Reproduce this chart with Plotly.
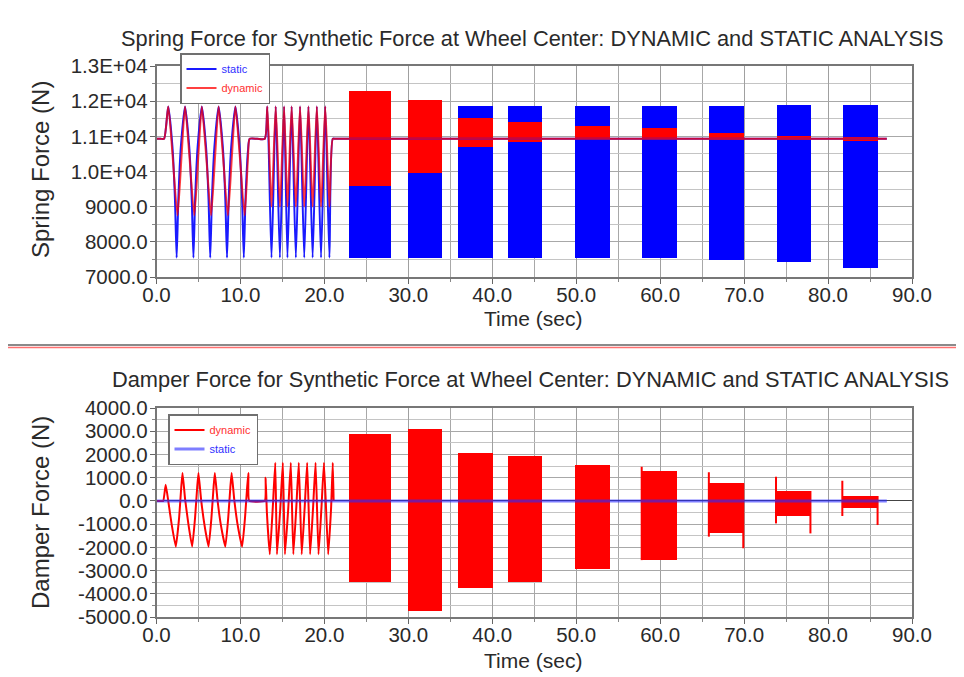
import plotly.graph_objects as go

# ---------------- data ----------------
# Spring force, oscillating segments (time s, force N)
spring_static_t = [0.0, 0.5, 0.9, 1.4, 1.9, 2.2, 2.4, 2.6, 2.9, 3.4, 3.9, 4.2, 4.4, 4.6, 4.9, 5.4, 5.9, 6.2, 6.4, 6.6, 6.9,
                   7.4, 7.9, 8.2, 8.4, 8.6, 8.9, 9.4, 9.9, 10.2, 10.4, 10.6, 10.9, 11.1, 12.0,
                   12.9, 13.2, 13.7, 14.2, 14.7, 15.2, 15.6, 16.1, 16.6, 17.1, 17.6, 18.1, 18.6, 19.1, 19.6, 20.1, 20.6, 21.0,
                   21.3, 22.0, 87.0]
spring_static_v = [10930, 10930, 10930, 11850, 10700, 9200, 7550, 9200, 10700, 11850, 10700, 9200, 7550, 9200, 10700, 11850, 10700, 9200, 7550, 9200, 10700,
                   11850, 10700, 9200, 7550, 9200, 10700, 11850, 10700, 9200, 7550, 9200, 10600, 10930, 10930,
                   10930, 11850, 7550, 11850, 7550, 11850, 7550, 11850, 7550, 11850, 7550, 11850, 7550, 11850, 7550, 11850, 7550, 10930,
                   10930, 10930, 10930]
spring_dynamic_t = [0.0, 0.5, 0.9, 1.4, 1.9, 2.5, 3.0, 3.4, 3.9, 4.5, 5.0, 5.4, 5.9, 6.5, 7.0, 7.4, 7.9, 8.5, 9.0, 9.4, 9.9, 10.5, 10.9, 11.1, 12.0,
                    12.9, 13.2, 13.7, 14.2, 14.7, 15.2, 15.6, 16.1, 16.6, 17.1, 17.6, 18.1, 18.6, 19.1, 19.6, 20.1, 20.6, 21.0,
                    21.3, 22.0, 87.0]
spring_dynamic_v = [10930, 10930, 10930, 11850, 10500, 8750, 10500, 11850, 10500, 8750, 10500, 11850, 10500, 8750, 10500, 11850, 10500, 8750, 10500, 11850, 10500, 8750, 10400, 10930, 10930,
                    10930, 11850, 9000, 11850, 9000, 11850, 9000, 11850, 9000, 11850, 9000, 11850, 9000, 11850, 9000, 11850, 9000, 10930,
                    10930, 10930, 10930]

# Dense high-frequency blocks (start / end time, envelope of the signal)
block_start = [22.9, 29.9, 35.8, 41.8, 49.8, 57.8, 65.8, 73.8, 81.7]
block_end = [27.9, 34.0, 40.0, 45.9, 54.0, 62.0, 69.9, 77.9, 85.9]
spring_static_lo = [7550, 7550, 7550, 7550, 7550, 7530, 7480, 7440, 7250]
spring_static_hi = [11850, 11850, 11850, 11850, 11850, 11850, 11850, 11900, 11900]
spring_dynamic_lo = [9580, 9950, 10700, 10850, 10930, 10930, 10900, 10900, 10880]
spring_dynamic_hi = [12300, 12030, 11530, 11420, 11300, 11230, 11100, 11020, 10980]

damper_dynamic_lo = [-3500, -4750, -3750, -3480, -2950, -2550, -1370, -650, -320]
damper_dynamic_hi = [2880, 3080, 2080, 1950, 1530, 1290, 760, 430, 210]
damper_spike_start_hi = [None, None, None, None, None, 1470, 1230, 1040, 870]
damper_spike_start_lo = [None, None, None, None, None, None, -1540, -970, -650]
damper_spike_end_lo = [None, None, None, None, None, None, -2040, -1400, -1040]

damper_dynamic_t = [0.0, 0.5, 0.8, 1.1, 1.4, 1.8, 2.3, 2.7, 2.95, 3.1, 3.4, 3.8, 4.25, 4.6, 4.85, 5.0, 5.3, 5.7, 6.2, 6.55, 6.8,
                    6.95, 7.25, 7.65, 8.2, 8.55, 8.8, 8.95, 9.25, 9.65, 10.2, 10.55, 10.8, 10.95, 11.05,
                    12.9, 13.0, 13.15, 13.5, 13.85, 14.15, 14.35, 14.75, 15.05, 15.3, 15.7, 16.0, 16.3, 16.65, 16.95, 17.3,
                    17.65, 17.95, 18.3, 18.65, 18.95, 19.3, 19.65, 19.95, 20.45, 20.8, 21.0, 21.1]
damper_dynamic_v = [0, 0, 0, 700, 0, -1000, -1970, -700, 600, 1200, 100, -1000, -1970, -700, 600, 1200, 100, -1000, -1970, -700, 600,
                    1200, 100, -1000, -1970, -700, 600, 1200, 100, -1000, -1970, -700, 600, 1200, 0,
                    0, 1000, -500, -2300, -300, 1640, -2300, -300, 1640, -2300, -300, 1640, -2300, -300, 1640, -2300,
                    -300, 1640, -2300, -300, 1640, -2300, -300, 1640, -2300, -300, 1640, 0]
damper_static_t = [0.0, 87.0]
damper_static_v = [0, 0]

x_ticks = [0, 10, 20, 30, 40, 50, 60, 70, 80, 90]
x_ticktext = ["0.0", "10.0", "20.0", "30.0", "40.0", "50.0", "60.0", "70.0", "80.0", "90.0"]
spring_ticks = [7000, 8000, 9000, 10000, 11000, 12000, 13000]
spring_ticktext = ["7000.0", "8000.0", "9000.0", "1.0E+04", "1.1E+04", "1.2E+04", "1.3E+04"]
damper_ticks = [-5000, -4000, -3000, -2000, -1000, 0, 1000, 2000, 3000, 4000]
damper_ticktext = ["-5000.0", "-4000.0", "-3000.0", "-2000.0", "-1000.0", "0.0", "1000.0", "2000.0", "3000.0", "4000.0"]

title_top = "Spring Force for Synthetic Force at Wheel Center: DYNAMIC and STATIC ANALYSIS"
title_bottom = "Damper Force for Synthetic Force at Wheel Center: DYNAMIC and STATIC ANALYSIS"

# ---------------- figure ----------------
OFF = 8  # page body margin
W, H = 964 - OFF, 677 - OFF
FONT = "Liberation Sans, Arial, sans-serif"
TXT = "#2a2a2a"


def px(x):
    return (x - OFF) / W


def py(y):
    return 1 - (y - OFF) / H


centers = [(a + b) / 2 for a, b in zip(block_start, block_end)]
widths = [b - a for a, b in zip(block_start, block_end)]

fig = go.Figure()

# top: bars (blue static under red dynamic)
fig.add_trace(go.Bar(x=centers, width=widths, base=spring_static_lo,
                     y=[h - l for h, l in zip(spring_static_hi, spring_static_lo)],
                     marker=dict(color="#0000ff", line=dict(width=0)), showlegend=False,
                     xaxis="x", yaxis="y", hoverinfo="skip"))
fig.add_trace(go.Bar(x=centers, width=widths, base=spring_dynamic_lo,
                     y=[h - l for h, l in zip(spring_dynamic_hi, spring_dynamic_lo)],
                     marker=dict(color="#ff0000", line=dict(width=0)), showlegend=False,
                     xaxis="x", yaxis="y", hoverinfo="skip"))
fig.add_trace(go.Scatter(x=spring_static_t, y=spring_static_v, mode="lines",
                         line=dict(color="#1a1aff", width=2, shape="spline", smoothing=0.6),
                         name='<span style="color:#3030ff">static</span>', legend="legend",
                         xaxis="x", yaxis="y"))
fig.add_trace(go.Scatter(x=spring_dynamic_t, y=spring_dynamic_v, mode="lines",
                         line=dict(color="rgba(255,0,0,0.75)", width=2, shape="spline", smoothing=0.6),
                         name='<span style="color:#ff3030">dynamic</span>', legend="legend",
                         xaxis="x", yaxis="y"))

# bottom
fig.add_trace(go.Bar(x=centers, width=widths, base=damper_dynamic_lo,
                     y=[h - l for h, l in zip(damper_dynamic_hi, damper_dynamic_lo)],
                     marker=dict(color="#ff0000", line=dict(width=0)), showlegend=False,
                     xaxis="x2", yaxis="y2", hoverinfo="skip"))
sx, sy = [], []
for t0, t1, hs, ls, le, lo, hi in zip(block_start, block_end, damper_spike_start_hi, damper_spike_start_lo,
                                      damper_spike_end_lo, damper_dynamic_lo, damper_dynamic_hi):
    if hs is not None or ls is not None:
        sx += [t0, t0, None]
        sy += [hs if hs is not None else hi, ls if ls is not None else lo, None]
    if le is not None:
        sx += [t1, t1, None]
        sy += [hi, le, None]
fig.add_trace(go.Scatter(x=sx, y=sy, mode="lines", line=dict(color="#ff0000", width=2),
                         showlegend=False, xaxis="x2", yaxis="y2", hoverinfo="skip"))
fig.add_trace(go.Scatter(x=damper_dynamic_t, y=damper_dynamic_v, mode="lines",
                         line=dict(color="#ff0000", width=2, shape="spline", smoothing=0.4),
                         name='<span style="color:#ff3030">dynamic</span>', legend="legend2",
                         xaxis="x2", yaxis="y2"))
fig.add_trace(go.Scatter(x=damper_static_t, y=damper_static_v, mode="lines",
                         line=dict(color="rgba(40,40,255,0.6)", width=3),
                         name='<span style="color:#3030ff">static</span>', legend="legend2",
                         xaxis="x2", yaxis="y2"))

xd = [px(156.5), px(912)]
top_dom = [py(277), py(66)]
bot_dom = [py(617), py(408)]
TICKSZ = 20.5

def xaxis_cfg(anchor):
    return dict(domain=xd, anchor=anchor, range=[0, 90], tickmode="array", tickvals=x_ticks, ticktext=x_ticktext,
                ticks="outside", ticklen=5, tickcolor="#666", showline=True, linecolor="#777", linewidth=1.5,
                mirror=True, showgrid=True, gridcolor="#a0a0a0", gridwidth=1, zeroline=False, automargin=False,
                ticklabelstandoff=-6,
                tickfont=dict(size=TICKSZ, color=TXT, family=FONT),
                minor=dict(tickmode="linear", tick0=0, dtick=5, ticks="outside", ticklen=3, tickcolor="#888",
                           showgrid=True, gridcolor="#a8a8a8", gridwidth=1))

def yaxis_cfg(anchor, dom, rng, tv, tt):
    return dict(domain=dom, anchor=anchor, range=rng, tickmode="array", tickvals=tv, ticktext=tt,
                ticks="outside", ticklen=5, tickcolor="#666", showline=True, linecolor="#777", linewidth=1.5,
                mirror=True, showgrid=True, gridcolor="#a8a8a8", gridwidth=1, automargin=False,
                ticklabelstandoff=-2,
                tickfont=dict(size=TICKSZ, color=TXT, family=FONT),
                minor=dict(tickmode="linear", tick0=0, dtick=500, ticks="outside", ticklen=3, tickcolor="#888",
                           showgrid=True, gridcolor="#c4c4c4", gridwidth=1))

ann = []
ann.append(dict(text=title_top, x=px(532), y=py(38), xref="paper", yref="paper", showarrow=False,
                font=dict(size=21.8, color=TXT, family=FONT), xanchor="center", yanchor="middle"))
ann.append(dict(text=title_bottom, x=px(530), y=py(379), xref="paper", yref="paper", showarrow=False,
                font=dict(size=21.8, color=TXT, family=FONT), xanchor="center", yanchor="middle"))
ann.append(dict(text="Time (sec)", x=px(533), y=py(318), xref="paper", yref="paper", showarrow=False,
                font=dict(size=21, color=TXT, family=FONT), xanchor="center", yanchor="middle"))
ann.append(dict(text="Time (sec)", x=px(533), y=py(660), xref="paper", yref="paper", showarrow=False,
                font=dict(size=21, color=TXT, family=FONT), xanchor="center", yanchor="middle"))
ann.append(dict(text="Spring Force (N)", x=px(40), y=py(170), xref="paper", yref="paper", showarrow=False,
                textangle=-90, font=dict(size=24, color=TXT, family=FONT), xanchor="center", yanchor="middle"))
ann.append(dict(text="Damper Force (N)", x=px(40), y=py(513), xref="paper", yref="paper", showarrow=False,
                textangle=-90, font=dict(size=24, color=TXT, family=FONT), xanchor="center", yanchor="middle"))

shapes = [
    dict(type="line", xref="paper", yref="paper", x0=0, x1=1, y0=py(345), y1=py(345),
         line=dict(color="#8a8a8a", width=2)),
    dict(type="line", xref="paper", yref="paper", x0=0, x1=1, y0=py(347.5), y1=py(347.5),
         line=dict(color="#ff7070", width=1.5)),
]

leg_common = dict(xanchor="left", yanchor="top", bgcolor="white", bordercolor="#707070", borderwidth=1.5,
                  font=dict(size=11, family=FONT), itemwidth=30, tracegroupgap=0, traceorder="normal")

fig.update_layout(
    width=W, height=H, margin=dict(l=0, r=0, t=0, b=0, autoexpand=False),
    paper_bgcolor="white", plot_bgcolor="white", barmode="overlay", bargap=0,
    font=dict(family=FONT, color=TXT),
    xaxis=xaxis_cfg("y"), yaxis=yaxis_cfg("x", top_dom, [7000, 13000], spring_ticks, spring_ticktext),
    xaxis2=xaxis_cfg("y2"),
    yaxis2=dict(yaxis_cfg("x2", bot_dom, [-5000, 4000], damper_ticks, damper_ticktext),
                zeroline=True, zerolinecolor="#444", zerolinewidth=1),
    legend=dict(leg_common, x=px(180), y=py(53)),
    legend2=dict(leg_common, x=px(168), y=py(414)),
    annotations=ann, shapes=shapes, showlegend=True,
)

fig.write_html("out.html")
